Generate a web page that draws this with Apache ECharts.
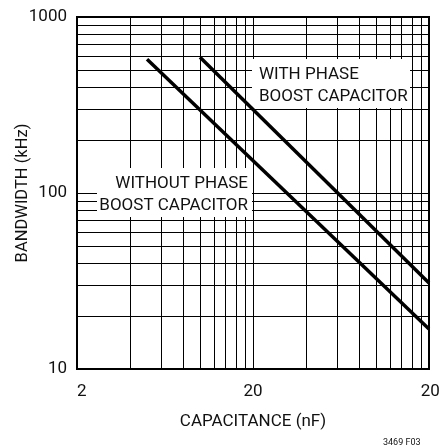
<!DOCTYPE html>
<html><head><meta charset="utf-8">
<script src="https://cdn.jsdelivr.net/npm/echarts@6/dist/echarts.min.js"></script>
<style>html,body{margin:0;padding:0;background:#fff}#c{width:440px;height:446px}</style>
</head><body><div id="c"></div>
<script>
const FONT = "Roboto, 'Liberation Sans', sans-serif";
// Data
const withoutCap = [5, 200];
const withoutBW = [575, 16.9];
const withCap = [10, 200];
const withBW = [590, 30.8];
// Axes
const xTickLabels = [2, 20, 200];
const xGridValues = [4,6,8,10,12,14,16,18,20,40,60,80,100,120,140,160,180];
const yTickLabels = [10, 100, 1000];
const yGridValues = [20,30,40,50,60,70,80,90,100,200,300,400,500,600,700,800,900];
const labelWith = ['WITH PHASE', 'BOOST CAPACITOR'];
const labelWithout = ['WITHOUT PHASE', 'BOOST CAPACITOR'];

const chart = echarts.init(document.getElementById('c'), null, {renderer: 'canvas'});
const gridMarks = xGridValues.map(v => ({xAxis: v})).concat(yGridValues.map(v => ({yAxis: v})));
chart.setOption({
  animation: false,
  backgroundColor: '#fff',
  grid: {left: 77, top: 17, width: 352, height: 352, outerBoundsMode: 'none', containLabel: false,
         show: true, borderColor: '#000', borderWidth: 2, backgroundColor: 'transparent', z: 30},
  xAxis: {
    type: 'log', logBase: 10, min: 2, max: 200, z: 30,
    name: 'CAPACITANCE (nF)', nameLocation: 'middle', nameGap: 44, nameMoveOverlap: false,
    nameTextStyle: {fontFamily: FONT, fontSize: 17, color: '#111'},
    axisLine: {show: true, lineStyle: {color: '#000', width: 2}},
    axisTick: {show: false},
    splitLine: {show: false},
    axisLabel: {customValues: xTickLabels, fontFamily: FONT, fontSize: 17, color: '#111', margin: 14,
      alignMinLabel: 'left',
      formatter: v => (v === xTickLabels[xTickLabels.length - 1] ? '{r|' + v + '}' : String(v)),
      rich: {r: {fontFamily: FONT, fontSize: 17, color: '#111', padding: [0, 0, 0, 12]}}}
  },
  yAxis: {
    type: 'log', logBase: 10, min: 10, max: 1000, z: 30,
    name: 'BANDWIDTH (kHz)', nameLocation: 'middle', nameGap: 46, nameMoveOverlap: false,
    nameTextStyle: {fontFamily: FONT, fontSize: 16.5, color: '#111'},
    axisLine: {show: true, lineStyle: {color: '#000', width: 2}},
    axisTick: {show: false},
    splitLine: {show: false},
    axisLabel: {customValues: yTickLabels, fontFamily: FONT, fontSize: 17, color: '#111', margin: 10,
      formatter: v => String(v)}
  },
  series: [
    {type: 'line', name: 'grid', data: [], symbol: 'none', silent: true, z: 1,
     markLine: {silent: true, z: 5, symbol: ['none', 'none'], label: {show: false}, animation: false,
       lineStyle: {color: '#000', width: 1, type: 'solid'}, emphasis: {disabled: true}, data: gridMarks}},
    {type: 'line', name: 'without', data: withoutCap.map((c, i) => [c, withoutBW[i]]), symbol: 'none',
     lineStyle: {color: '#000', width: 3.5}, z: 25},
    {type: 'line', name: 'with', data: withCap.map((c, i) => [c, withBW[i]]), symbol: 'none',
     lineStyle: {color: '#000', width: 3.5}, z: 25}
  ],
  graphic: [
    {type: 'rect', z: 20, shape: {x: 252, y: 59, width: 158, height: 49}, style: {fill: '#fff'}},
    {type: 'text', z: 21, x: 259, y: 64, style: {text: labelWith.join('\n'), font: '17px ' + FONT, fill: '#111', lineHeight: 22, align: 'left'}},
    {type: 'rect', z: 20, shape: {x: 97, y: 168, width: 155, height: 49}, style: {fill: '#fff'}},
    {type: 'text', z: 21, x: 248, y: 173, style: {text: labelWithout.join('\n'), font: '17px ' + FONT, fill: '#111', lineHeight: 22, align: 'right'}},
    {type: 'text', z: 21, x: 383, y: 438, style: {text: '3469 F03', font: '9px ' + FONT, fill: '#111'}}
  ]
});
</script></body></html>
